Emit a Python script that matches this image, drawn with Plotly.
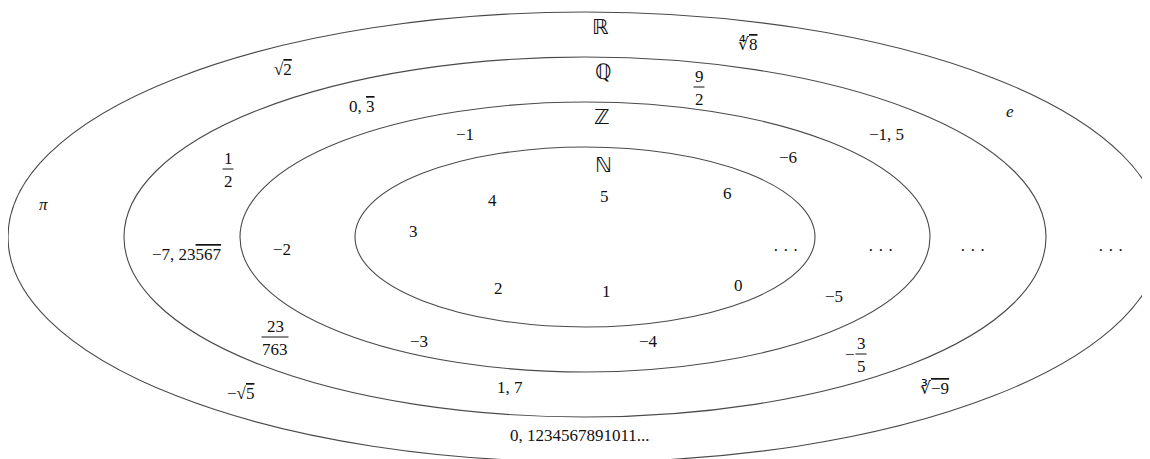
import plotly.graph_objects as go

# Number sets (outer to inner): name, half-width, half-height (in diagram units)
set_names = ["ℝ", "ℚ", "ℤ", "ℕ"]
set_rx = [577, 461, 345, 230]
set_ry = [225, 180, 135, 90]
center_x = 585
center_y = 237
set_label_x = [600, 603, 602, 603]
set_label_y = [27, 72, 117, 165]

OV = "<span style='text-decoration:overline'>{}</span>"

# Plain element labels
elem_text = ["∜" + OV.format("8"), "√" + OV.format("2"), "0, " + OV.format("3"), "<i>e</i>",
             "−1", "−1, 5", "−6", "<i>π</i>",
             "4", "5", "6", "3", "−7, 23" + OV.format("567"), "−2",
             "· · ·", "· · ·", "· · ·", "· · ·",
             "2", "1", "0", "−5", "−3", "−4",
             "−√" + OV.format("5"), "1, 7", "∛" + OV.format("−9"), "0, 1234567891011..."]
elem_x = [748, 283, 362, 1010, 465, 886, 788, 43,
          492, 604, 727, 413, 187, 282,
          785, 880, 972, 1110,
          498, 606, 738, 834, 419, 648,
          240, 510, 934, 580]
elem_y = [44, 69, 106, 111, 134, 134, 157, 204,
          200, 196, 193, 231, 254, 249,
          250, 250, 250, 250,
          288, 291, 285, 296, 341, 341,
          393, 387, 388, 435]

# Fractions: numerator, denominator, center x, bar y, sign
frac_num = ["9", "1", "23", "3"]
frac_den = ["2", "2", "763", "5"]
frac_x = [699, 228, 275, 861]
frac_y = [87, 169, 337, 354]
frac_sign = ["", "", "", "−"]

FONT = "Liberation Serif"
OFF = 8  # page body margin

fig = go.Figure()
fig.add_trace(go.Scatter(x=[0, 1150], y=[0, 459], mode="markers",
                         marker=dict(opacity=0), hoverinfo="skip", showlegend=False))

shapes = []
for rx, ry in zip(set_rx, set_ry):
    shapes.append(dict(type="circle", xref="x", yref="y",
                       x0=center_x - rx, x1=center_x + rx,
                       y0=center_y - ry, y1=center_y + ry,
                       line=dict(color="#4a4a4a", width=1.1)))

annotations = []
for t, x, y in zip(set_names, set_label_x, set_label_y):
    annotations.append(dict(x=x, y=y, text=t, showarrow=False, xref="x", yref="y",
                            font=dict(family="DejaVu Sans", size=21, color="#111")))
for t, x, y in zip(elem_text, elem_x, elem_y):
    annotations.append(dict(x=x, y=y, text=t, showarrow=False, xref="x", yref="y",
                            font=dict(family=FONT, size=17, color="#111")))
for n, d, x, y, s in zip(frac_num, frac_den, frac_x, frac_y, frac_sign):
    w = 1.5 + 4 * max(len(n), len(d))
    annotations.append(dict(x=x, y=y - 11, text=n, showarrow=False, xref="x", yref="y",
                            font=dict(family=FONT, size=17, color="#111")))
    annotations.append(dict(x=x, y=y + 12, text=d, showarrow=False, xref="x", yref="y",
                            font=dict(family=FONT, size=17, color="#111")))
    shapes.append(dict(type="line", xref="x", yref="y", x0=x - w, x1=x + w, y0=y, y1=y,
                       line=dict(color="#111", width=1)))
    if s:
        annotations.append(dict(x=x - w - 6, y=y, text=s, showarrow=False, xref="x", yref="y",
                                font=dict(family=FONT, size=17, color="#111")))

fig.update_layout(
    width=1150, height=459,
    margin=dict(l=0, r=0, t=0, b=0),
    paper_bgcolor="white", plot_bgcolor="white",
    xaxis=dict(range=[OFF, 1150 + OFF], visible=False, fixedrange=True),
    yaxis=dict(range=[459 + OFF, OFF], visible=False, fixedrange=True),
    shapes=shapes, annotations=annotations, showlegend=False,
)
fig.write_html("out.html")
